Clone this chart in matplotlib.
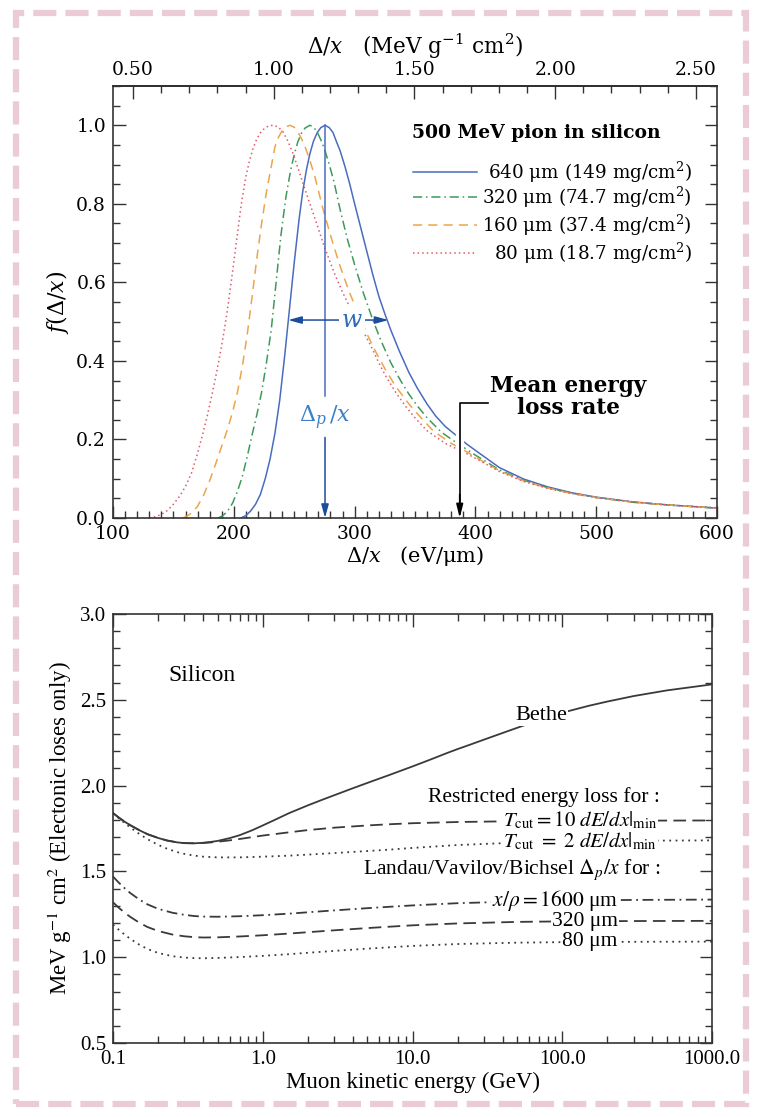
import matplotlib.pyplot as plt
import matplotlib.patheffects as pe
from matplotlib.patches import Rectangle
from matplotlib.ticker import (MultipleLocator, FixedLocator, FormatStrFormatter,
                               LogLocator, NullFormatter)

plt.rcParams["font.family"] = "DejaVu Serif"
plt.rcParams["mathtext.fontset"] = "dejavuserif"

# ---- straggling functions, 500 MeV pion in silicon (eV/um, normalised f) ----
x640 = [206, 210, 214, 218, 222, 226, 230, 234, 238, 242, 246, 250, 254, 257, 260, 263, 266, 269, 272,
        275.5, 279, 282, 285, 288, 292, 296, 300, 305, 310, 315, 320, 325, 330, 337, 345, 352, 360,
        367, 375, 385, 392, 400, 420, 440, 460, 480, 500, 530, 560, 600]
f640 = [0.0, 0.006, 0.018, 0.035, 0.06, 0.10, 0.15, 0.215, 0.30, 0.41, 0.53, 0.65, 0.76, 0.83, 0.885, 0.928, 0.96, 0.981, 0.994,
        1.0, 0.994, 0.982, 0.958, 0.935, 0.895, 0.85, 0.80, 0.74, 0.68, 0.62, 0.565, 0.52, 0.478, 0.425, 0.37, 0.33, 0.29,
        0.26, 0.233, 0.208, 0.19, 0.172, 0.128, 0.099, 0.079, 0.064, 0.053, 0.041, 0.033, 0.025]

x320 = [187, 191, 195, 199, 203, 207, 211, 215, 219, 223, 227, 231, 235, 239, 243, 247, 250, 253, 256, 259,
        263, 266, 269, 272, 275, 279, 283, 288, 294, 300, 307, 315, 322, 330, 338, 345, 352, 360, 372, 384,
        392, 400, 420, 440, 460, 480, 500, 530, 560, 600]
f320 = [0.0, 0.006, 0.018, 0.038, 0.068, 0.105, 0.155, 0.21, 0.262, 0.32, 0.395, 0.48, 0.60, 0.72, 0.815, 0.885, 0.925, 0.958, 0.98, 0.993,
        1.0, 0.995, 0.983, 0.963, 0.94, 0.90, 0.855, 0.785, 0.71, 0.645, 0.575, 0.505, 0.45, 0.395, 0.35, 0.315, 0.285, 0.255, 0.218, 0.192,
        0.176, 0.160, 0.122, 0.096, 0.077, 0.063, 0.052, 0.040, 0.033, 0.025]

x160 = [158, 162, 166, 170, 175, 180, 185, 190, 195, 199, 203, 207, 211, 215, 219, 223, 227, 231, 234, 237,
        240, 243, 246.5, 250, 253, 256, 259, 263, 267, 274, 280, 287, 295, 303, 310, 318, 326, 334, 345, 355,
        365, 380, 392, 400, 420, 440, 460, 480, 500, 530, 560, 600]
f160 = [0.0, 0.006, 0.015, 0.03, 0.058, 0.095, 0.138, 0.183, 0.228, 0.27, 0.32, 0.385, 0.465, 0.56, 0.66, 0.75, 0.83, 0.895, 0.945, 0.97,
        0.986, 0.996, 1.0, 0.995, 0.983, 0.966, 0.945, 0.91, 0.87, 0.785, 0.72, 0.65, 0.58, 0.52, 0.47, 0.42, 0.375, 0.335, 0.29, 0.255,
        0.222, 0.19, 0.17, 0.155, 0.12, 0.094, 0.076, 0.062, 0.052, 0.040, 0.033, 0.025]

x80 = [130, 135, 140, 145, 150, 155, 160, 165, 170, 174, 178, 182, 186, 190, 194, 198, 202, 206, 210, 213,
       216, 219, 222, 226, 229.5, 233, 237, 241, 245, 249, 253, 258, 263, 268, 275, 283, 290, 297, 302, 308,
       314, 320, 326, 334, 342, 350, 360, 375, 392, 400, 420, 440, 460, 480, 500, 530, 560, 600]
f80 = [0.0, 0.003, 0.009, 0.019, 0.035, 0.055, 0.08, 0.115, 0.165, 0.21, 0.26, 0.315, 0.375, 0.44, 0.515, 0.605, 0.70, 0.795, 0.87, 0.91,
       0.942, 0.965, 0.981, 0.994, 0.999, 1.0, 0.995, 0.982, 0.958, 0.928, 0.892, 0.845, 0.80, 0.755, 0.69, 0.625, 0.575, 0.53, 0.50, 0.47,
       0.435, 0.395, 0.36, 0.32, 0.285, 0.255, 0.222, 0.19, 0.165, 0.152, 0.118, 0.093, 0.075, 0.062, 0.052, 0.041, 0.033, 0.026]

delta_p = 275.5        # most probable value, 640 um
w_lo, w_hi = 245, 328  # full width at half maximum
mean_loss = 387

thick_labels = ["640 \u03bcm (149 mg/cm$^2$)", "320 \u03bcm (74.7 mg/cm$^2$)",
                "160 \u03bcm (37.4 mg/cm$^2$)", "80 \u03bcm (18.7 mg/cm$^2$)"]

# ---- muon stopping power in silicon (GeV, MeV g^-1 cm^2) ----
T = [0.1, 0.11, 0.12, 0.13, 0.15, 0.17, 0.2, 0.23, 0.27, 0.3, 0.35, 0.4, 0.45, 0.5, 0.6, 0.7, 0.85,
     1.0, 1.2, 1.5, 2.0, 2.5, 3.0, 4.0, 5.0, 7.0, 10, 13, 17, 20, 25, 30, 40, 50, 70, 100, 150, 200,
     300, 500, 700, 1000]
bethe = [1.840, 1.812, 1.789, 1.770, 1.740, 1.717, 1.695, 1.680, 1.669, 1.665, 1.664, 1.667, 1.672, 1.678,
         1.694, 1.711, 1.740, 1.768, 1.800, 1.840, 1.885, 1.918, 1.944, 1.985, 2.016, 2.062, 2.112, 2.150,
         2.190, 2.213, 2.243, 2.268, 2.307, 2.337, 2.382, 2.425, 2.465, 2.490, 2.522, 2.555, 2.572, 2.590]

T2 = [0.1, 0.11, 0.12, 0.13, 0.15, 0.17, 0.2, 0.23, 0.27, 0.3, 0.35, 0.4, 0.45, 0.5, 0.6, 0.7, 0.85,
      1.0, 1.5, 2.0, 3.0, 5.0, 7.0, 10, 20, 50, 100, 300, 1000]
cut10 = [1.840, 1.812, 1.789, 1.770, 1.740, 1.717, 1.695, 1.680, 1.669, 1.665, 1.664, 1.666, 1.669, 1.673,
         1.681, 1.689, 1.700, 1.709, 1.728, 1.741, 1.755, 1.768, 1.775, 1.781, 1.788, 1.793, 1.795, 1.796, 1.797]

T3 = [0.1, 0.11, 0.12, 0.13, 0.15, 0.17, 0.2, 0.23, 0.27, 0.3, 0.35, 0.4, 0.5, 0.7, 1.0, 1.5, 2.0,
      3.0, 5.0, 7.0, 10, 20, 50, 100, 300, 1000]
cut2 = [1.840, 1.808, 1.781, 1.757, 1.718, 1.688, 1.655, 1.632, 1.612, 1.602, 1.592, 1.586, 1.582, 1.582,
        1.586, 1.592, 1.598, 1.607, 1.619, 1.627, 1.637, 1.654, 1.668, 1.674, 1.679, 1.681]

T4 = [0.1, 0.11, 0.12, 0.13, 0.15, 0.17, 0.2, 0.25, 0.3, 0.35, 0.4, 0.5, 0.7, 1.0, 1.5, 2.0, 3.0,
      5.0, 7.0, 10, 20, 50, 100, 300, 1000]
lvb1600 = [1.470, 1.432, 1.401, 1.375, 1.336, 1.308, 1.282, 1.259, 1.247, 1.240, 1.237, 1.236, 1.239,
           1.245, 1.254, 1.262, 1.273, 1.286, 1.294, 1.302, 1.315, 1.325, 1.330, 1.334, 1.336]
lvb320 = [1.320, 1.286, 1.259, 1.236, 1.201, 1.176, 1.153, 1.132, 1.122, 1.117, 1.115, 1.116, 1.121,
          1.128, 1.138, 1.146, 1.157, 1.170, 1.178, 1.186, 1.197, 1.206, 1.209, 1.211, 1.212]
lvb80 = [1.190, 1.158, 1.131, 1.108, 1.073, 1.048, 1.025, 1.006, 0.998, 0.995, 0.994, 0.996, 1.001,
         1.008, 1.018, 1.026, 1.037, 1.050, 1.058, 1.066, 1.077, 1.085, 1.088, 1.090, 1.091]

blue, green, orange, red = "#4a6cbf", "#3d9a5c", "#eda54a", "#e25a6a"
grey = "#3a3a3a"
dashdot = (0, (6, 2.5, 1, 2.5))

fig = plt.figure(figsize=(7.57, 11.17), dpi=100)

# ================= upper panel =================
ax = fig.add_axes([0.1493, 0.5363, 0.7979, 0.3867])
ax.plot(x640, f640, color=blue, lw=1.1, zorder=2)
ax.plot(x320, f320, color=green, lw=1.1, ls=dashdot, zorder=2)
ax.plot(x160, f160, color=orange, lw=1.1, ls=(0, (6, 4)), zorder=2)
ax.plot(x80, f80, color=red, lw=1.1, ls=(0, (1, 2)), zorder=2)
ax.set_xlim(100, 600)
ax.set_ylim(0, 1.1)

# most probable loss and width
ax.plot([delta_p, delta_p], [1.0, 0.31], color=blue, lw=1.1, zorder=3)
ax.annotate("", xy=(delta_p, 0.0), xytext=(delta_p, 0.205),
            arrowprops=dict(arrowstyle="-|>,head_length=0.8,head_width=0.22", color="#1d4c9c", lw=1.1,
                            shrinkA=0, shrinkB=0), zorder=3)
ax.text(delta_p, 0.254, r"$\Delta_p\,/x$", color="#3b80c8", fontsize=16, ha="center", va="center")
ax.annotate("", xy=(w_lo, 0.504), xytext=(w_hi, 0.504),
            arrowprops=dict(arrowstyle="<|-|>,head_length=0.8,head_width=0.22", color="#1d4c9c", lw=1.1,
                            shrinkA=0, shrinkB=0), zorder=3)
ax.text(297.6, 0.504, r"$w$", color="#2f6cb5", fontsize=17, ha="center", va="center", zorder=4,
        bbox=dict(facecolor="white", edgecolor="none", pad=1.5))

# mean energy loss rate
ax.plot([410, mean_loss, mean_loss], [0.293, 0.293, 0.03], color="black", lw=1.2, zorder=3,
        path_effects=[pe.Stroke(linewidth=6, foreground="white"), pe.Normal()])
ax.annotate("", xy=(mean_loss, 0.0), xytext=(mean_loss, 0.06),
            arrowprops=dict(arrowstyle="-|>,head_length=0.8,head_width=0.2", color="black", lw=1.2,
                            shrinkA=0, shrinkB=0), zorder=3)
ax.text(476.7, 0.308, "Mean energy\nloss rate", ha="center", va="center", fontsize=15.5,
        fontweight="bold", linespacing=1.0)

# legend
ax.text(347.5, 0.98, "500 MeV pion in silicon", fontsize=13.5, fontweight="bold",
        ha="left", va="center")
leg_y = [0.880, 0.817, 0.746, 0.674]
styles = [dict(color=blue), dict(color=green, ls=dashdot),
          dict(color=orange, ls=(0, (6, 4))), dict(color=red, ls=(0, (1, 2)))]
for yy, lab, st in zip(leg_y, thick_labels, styles):
    ax.plot([348, 401], [yy, yy], lw=1.1, **st)
    ax.text(579.3, yy, lab, fontsize=13.2, ha="right", va="center")

ax.xaxis.set_major_locator(MultipleLocator(100))
ax.xaxis.set_minor_locator(MultipleLocator(10))
ax.yaxis.set_major_locator(MultipleLocator(0.2))
ax.yaxis.set_minor_locator(MultipleLocator(0.05))
ax.yaxis.set_major_formatter(FormatStrFormatter("%.1f"))
ax.tick_params(which="both", direction="in", right=True, top=False, width=1.0, color="#333333",
               labelsize=13.5, pad=5)
ax.tick_params(which="major", length=9)
ax.tick_params(which="minor", length=5)
for s in ax.spines.values():
    s.set_linewidth(1.2)
    s.set_color("#333333")
ax.set_xlabel("$\\Delta/x$   (eV/\u03bcm)", fontsize=15, labelpad=1)
ax.set_ylabel(r"$f(\Delta/x)$", fontsize=16, labelpad=4)

sec = ax.secondary_xaxis("top", functions=(lambda v: v / 233.0, lambda v: v * 233.0))
sec.xaxis.set_major_locator(FixedLocator([0.5, 1.0, 1.5, 2.0, 2.5]))
sec.xaxis.set_minor_locator(FixedLocator([0.5 + 0.1 * i for i in range(21)]))
sec.xaxis.set_major_formatter(FormatStrFormatter("%.2f"))
sec.tick_params(which="both", direction="in", width=1.0, color="#333333", labelsize=13.5, pad=5)
sec.tick_params(which="major", length=9)
sec.tick_params(which="minor", length=5)
sec.spines["top"].set_linewidth(1.2)
sec.set_xlabel(r"$\Delta/x$   (MeV g$^{-1}$ cm$^2$)", fontsize=15.5, labelpad=5)

# ================= lower panel =================
times = "Liberation Serif"
ax2 = fig.add_axes([0.1493, 0.0662, 0.7913, 0.3841])
ax2.set_xscale("log")
ax2.plot(T, bethe, color=grey, lw=1.3)
ax2.plot(T2, cut10, color=grey, lw=1.3, ls=(0, (7, 3.5)))
ax2.plot(T3, cut2, color=grey, lw=1.3, ls=(0, (1, 2.5)))
ax2.plot(T4, lvb1600, color=grey, lw=1.3, ls=dashdot)
ax2.plot(T4, lvb320, color=grey, lw=1.3, ls=(0, (7, 3.5)))
ax2.plot(T4, lvb80, color=grey, lw=1.3, ls=(0, (1, 2.5)))
ax2.set_xlim(0.1, 1000)
ax2.set_ylim(0.5, 3.0)

box = dict(facecolor="white", edgecolor="none", pad=0.6)
tk = dict(family=times, math_fontfamily="stix", fontsize=15.5, zorder=4)
ax2.text(0.233, 2.64, "Silicon", ha="left", va="center", **dict(tk, fontsize=17))
ax2.text(72, 2.41, "Bethe", ha="center", va="center", bbox=box, **dict(tk, fontsize=16))
ax2.text(450, 1.935, "Restricted energy loss for :", ha="right", va="center", **tk)
ax2.text(430, 1.797, r"$T_{\mathrm{cut}} = 10\ dE/dx|_{\mathrm{min}}$", ha="right", va="center",
         bbox=box, **dict(tk, fontsize=15))
ax2.text(430, 1.674, r"$T_{\mathrm{cut}}\ =\ 2\ dE/dx|_{\mathrm{min}}$", ha="right", va="center",
         bbox=box, **dict(tk, fontsize=15))
ax2.text(450, 1.508, r"Landau/Vavilov/Bichsel $\Delta_p/x$ for :", ha="right", va="center", **tk)
ax2.text(235, 1.333, "$x/\\rho = 1600$ \u03bcm", ha="right", va="center", bbox=box, **tk)
ax2.text(235, 1.209, "320 \u03bcm", ha="right", va="center", bbox=box, **tk)
ax2.text(235, 1.089, "80 \u03bcm", ha="right", va="center", bbox=box, **tk)

ax2.set_xticks([0.1, 1, 10, 100, 1000])
ax2.set_xticklabels(["0.1", "1.0", "10.0", "100.0", "1000.0"])
ax2.xaxis.set_minor_locator(LogLocator(base=10, subs=range(2, 10)))
ax2.xaxis.set_minor_formatter(NullFormatter())
ax2.yaxis.set_major_locator(MultipleLocator(0.5))
ax2.yaxis.set_minor_locator(MultipleLocator(0.1))
ax2.yaxis.set_major_formatter(FormatStrFormatter("%.1f"))
ax2.tick_params(which="both", direction="in", top=True, right=True, width=1.0, color="#333333",
                labelsize=15, labelfontfamily=times, pad=5)
ax2.tick_params(which="major", length=9)
ax2.tick_params(which="minor", length=5)
for s in ax2.spines.values():
    s.set_linewidth(1.2)
    s.set_color("#333333")
ax2.set_xlabel("Muon kinetic energy (GeV)", fontsize=16.5, family=times, labelpad=2)
ax2.set_ylabel(r"MeV g$^{-1}$ cm$^2$ (Electonic loses only)", fontsize=16.5, family=times,
               math_fontfamily="stix", labelpad=4)

# dashed frame round the figure
fig.patches.append(Rectangle((16 / 757, 1 - 1104 / 1117), (746 - 16) / 757, (1104 - 13) / 1117,
                             transform=fig.transFigure, fill=False, edgecolor="#eacbd6",
                             lw=4.5, ls=(0, (3.7, 1.45))))

fig.savefig("out.png", dpi=100)
